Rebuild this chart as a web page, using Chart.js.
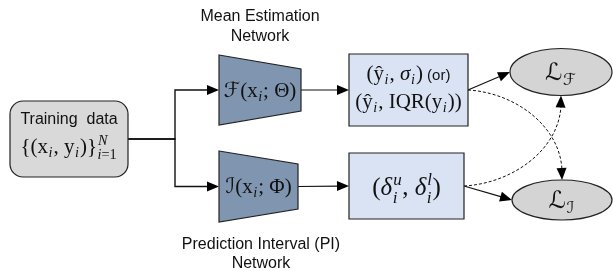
<!DOCTYPE html>
<html>
<head>
<meta charset="utf-8">
<script src="https://cdn.jsdelivr.net/npm/chart.js@4"></script>
<style>
  html, body { margin: 0; padding: 0; background: #fff; }
  canvas { display: block; }
</style>
</head>
<body>
<canvas id="diagram" width="613" height="271"></canvas>
<script>
// diagram content
const captionTop = ['Mean Estimation', 'Network'];
const captionBottom = ['Prediction Interval (PI)', 'Network'];
const nodeNames = ['data', 'meanNet', 'piNet', 'meanOut', 'piOut', 'lossF', 'lossI'];
const nodeX = [69, 260, 258.5, 408.5, 406.5, 561, 562];
const nodeY = [139, 90, 186.5, 90, 186, 72, 200];
// [from, to, kind]
const edges = [
  ['data', 'meanNet', 'elbow'],
  ['data', 'piNet', 'elbow'],
  ['meanNet', 'meanOut', 'solid'],
  ['piNet', 'piOut', 'solid'],
  ['meanOut', 'lossF', 'solid'],
  ['piOut', 'lossI', 'solid'],
  ['meanOut', 'lossI', 'dashed'],
  ['piOut', 'lossF', 'dashed']
];

// math labels as runs: t = text with font f, or sub/sup scripts
const labels = {
  data: [
    [{ t: 'Training  data', f: 'sf', size: 16 }],
    [{ t: '{(x', f: 'rm' }, { sub: 'i' }, { t: ', y', f: 'rm' }, { sub: 'i' }, { t: ')}', f: 'rm' }, { sup: 'N', sub: 'i=1' }]
  ],
  meanNet: [[{ t: 'ℱ', f: 'cal' }, { t: '(x', f: 'rm' }, { sub: 'i' }, { t: '; Θ)', f: 'rm' }]],
  piNet: [[{ t: 'ℐ', f: 'cal' }, { t: '(x', f: 'rm' }, { sub: 'i' }, { t: '; Φ)', f: 'rm' }]],
  meanOut: [
    [{ t: '(ŷ', f: 'rm' }, { sub: 'i' }, { t: ', ', f: 'rm' }, { t: 'σ', f: 'it' }, { sub: 'i' }, { t: ')', f: 'rm' }, { t: ' (or)', f: 'sf', size: 15 }],
    [{ t: '(ŷ', f: 'rm' }, { sub: 'i' }, { t: ', IQR(y', f: 'rm' }, { sub: 'i' }, { t: '))', f: 'rm' }]
  ],
  piOut: [[{ t: '(', f: 'rm' }, { t: 'δ', f: 'it' }, { sup: 'u', sub: 'i' }, { t: ', ', f: 'rm' }, { t: 'δ', f: 'it' }, { sup: 'l', sub: 'i' }, { t: ')', f: 'rm' }]],
  lossF: [[{ t: 'ℒ', f: 'cal' }, { sub: 'ℱ', sf: 'cal' }]],
  lossI: [[{ t: 'ℒ', f: 'cal' }, { sub: 'ℐ', sf: 'cal' }]]
};

// shape geometry (diagram units)
const shapes = {
  data: { type: 'round', w: 118, h: 76, r: 13, fill: '#d9d9d9', size: 21, lines: [124, 153] },
  meanNet: { type: 'trap', w: 82, hl: 70, hr: 42, fill: '#8095af', size: 21, lines: [97] },
  piNet: { type: 'trap', w: 79, hl: 71, hr: 45, fill: '#8095af', size: 21, lines: [193] },
  meanOut: { type: 'rect', w: 119, h: 72, fill: '#dae3f3', size: 21, lines: [80, 108] },
  piOut: { type: 'rect', w: 115, h: 66, fill: '#dae3f3', size: 25, lines: [195] },
  lossF: { type: 'ellipse', w: 102, h: 47, fill: '#d4d4d4', size: 24, lines: [80] },
  lossI: { type: 'ellipse', w: 100, h: 40, fill: '#d4d4d4', size: 24, lines: [208] }
};

function fontFor(f, size) {
  if (f === 'it') return 'italic ' + size + 'px "Liberation Serif"';
  if (f === 'sf') return size + 'px "Liberation Sans", Arial';
  if (f === 'cal') return size + 'px "DejaVu Serif", "DejaVu Sans"';
  return size + 'px "Liberation Serif"';
}

function scriptItems(ctx, items, str, f, size, x0, dy) {
  let x = x0;
  for (const ch of str) {
    const ff = f || (/[a-zA-Z]/.test(ch) ? 'it' : 'rm');
    const font = fontFor(ff, size);
    ctx.font = font;
    items.push({ t: ch, font, x, dy });
    x += ctx.measureText(ch).width;
  }
  return x - x0;
}

function layoutRuns(ctx, runs, size) {
  const items = [];
  let x = 0;
  for (const r of runs) {
    if (r.t !== undefined) {
      const font = fontFor(r.f, r.size || size);
      ctx.font = font;
      items.push({ t: r.t, font, x, dy: 0 });
      x += ctx.measureText(r.t).width;
    } else {
      let adv = 0;
      const s = size * 0.68;
      if (r.sup) adv = Math.max(adv, scriptItems(ctx, items, r.sup, r.sf, s, x + 1, -size * 0.4));
      if (r.sub) adv = Math.max(adv, scriptItems(ctx, items, r.sub, r.sf, s, x + 0.5, size * (r.sup ? 0.3 : 0.2)));
      x += adv + 1.5;
    }
  }
  return { items, width: x };
}

function arrowHead(ctx, fx, fy, tx, ty) {
  const a = Math.atan2(ty - fy, tx - fx);
  const len = 12, half = 5;
  ctx.save();
  ctx.setLineDash([]);
  ctx.beginPath();
  ctx.moveTo(tx, ty);
  ctx.lineTo(tx - len * Math.cos(a) + half * Math.sin(a), ty - len * Math.sin(a) - half * Math.cos(a));
  ctx.lineTo(tx - len * Math.cos(a) - half * Math.sin(a), ty - len * Math.sin(a) + half * Math.cos(a));
  ctx.closePath();
  ctx.fillStyle = '#000';
  ctx.fill();
  ctx.restore();
}

const diagramPlugin = {
  id: 'diagram',
  afterDatasetsDraw(chart) {
    const ctx = chart.ctx;
    const sx = chart.scales.x, sy = chart.scales.y;
    const meta = chart.getDatasetMeta(0);
    const pos = {};
    nodeNames.forEach((n, i) => { pos[n] = { x: meta.data[i].x, y: meta.data[i].y }; });
    const dw = v => sx.getPixelForValue(v) - sx.getPixelForValue(0);
    const dh = v => sy.getPixelForValue(v) - sy.getPixelForValue(0);

    // anchor points on each shape
    function anchor(n, side) {
      const p = pos[n], s = shapes[n];
      const hw = dw(s.w) / 2;
      if (side === 'left') return { x: p.x - hw, y: p.y };
      if (side === 'right') return { x: p.x + hw, y: p.y };
      const hh = dh(s.h) / 2;
      if (side === 'top') return { x: p.x, y: p.y - hh };
      return { x: p.x, y: p.y + hh };
    }

    ctx.save();
    ctx.strokeStyle = '#111';
    ctx.lineWidth = 1.2;

    // edges
    edges.forEach(([from, to, kind]) => {
      ctx.save();
      if (kind === 'elbow') {
        const a = anchor(from, 'right'), b = anchor(to, 'left');
        const mx = sx.getPixelForValue(175);
        ctx.lineWidth = 1.4;
        ctx.beginPath();
        ctx.moveTo(a.x, a.y);
        ctx.lineTo(mx, a.y);
        ctx.lineTo(mx, b.y);
        ctx.lineTo(b.x - 10, b.y);
        ctx.stroke();
        arrowHead(ctx, mx, b.y, b.x, b.y);
      } else if (kind === 'solid') {
        const a = anchor(from, 'right'), b = anchor(to, 'left');
        const ang = Math.atan2(b.y - a.y, b.x - a.x);
        ctx.beginPath();
        ctx.moveTo(a.x, a.y);
        ctx.lineTo(b.x - 10 * Math.cos(ang), b.y - 10 * Math.sin(ang));
        ctx.stroke();
        arrowHead(ctx, a.x, a.y, b.x, b.y);
      } else {
        const a = anchor(from, 'right');
        const down = pos[to].y > pos[from].y;
        const b = anchor(to, down ? 'top' : 'bottom');
        const c1 = { x: a.x + (b.x - a.x) * 0.5, y: a.y + (b.y - a.y) * 0.03 };
        const c2 = { x: b.x - 2, y: a.y + (b.y - a.y) * 0.4 };
        const sgn = down ? 1 : -1;
        ctx.setLineDash([3, 2]);
        ctx.lineWidth = 1;
        ctx.beginPath();
        ctx.moveTo(a.x, a.y);
        ctx.bezierCurveTo(c1.x, c1.y, c2.x, c2.y, b.x, b.y - sgn * 10);
        ctx.stroke();
        arrowHead(ctx, c2.x, c2.y, b.x, b.y);
      }
      ctx.restore();
    });

    // shapes
    nodeNames.forEach(n => {
      const p = pos[n], s = shapes[n];
      ctx.beginPath();
      if (s.type === 'round') {
        ctx.roundRect(p.x - dw(s.w) / 2, p.y - dh(s.h) / 2, dw(s.w), dh(s.h), s.r);
      } else if (s.type === 'rect') {
        ctx.rect(p.x - dw(s.w) / 2, p.y - dh(s.h) / 2, dw(s.w), dh(s.h));
      } else if (s.type === 'trap') {
        const l = p.x - dw(s.w) / 2, r = p.x + dw(s.w) / 2;
        ctx.moveTo(l, p.y - dh(s.hl) / 2);
        ctx.lineTo(r, p.y - dh(s.hr) / 2);
        ctx.lineTo(r, p.y + dh(s.hr) / 2);
        ctx.lineTo(l, p.y + dh(s.hl) / 2);
        ctx.closePath();
      } else {
        ctx.ellipse(p.x, p.y, dw(s.w) / 2, dh(s.h) / 2, 0, 0, Math.PI * 2);
      }
      ctx.fillStyle = s.fill;
      ctx.fill();
      ctx.lineWidth = 1.2;
      ctx.strokeStyle = '#222';
      ctx.stroke();

      // label lines
      ctx.fillStyle = '#111';
      ctx.textBaseline = 'alphabetic';
      labels[n].forEach((runs, li) => {
        const lay = layoutRuns(ctx, runs, s.size);
        const x0 = p.x - lay.width / 2;
        const by = sy.getPixelForValue(s.lines[li]);
        lay.items.forEach(it => {
          ctx.font = it.font;
          ctx.fillText(it.t, x0 + it.x, by + it.dy);
        });
      });
    });

    // captions
    ctx.font = '16px "Liberation Sans", Arial';
    ctx.textAlign = 'center';
    ctx.fillStyle = '#111';
    captionTop.forEach((t, i) => ctx.fillText(t, sx.getPixelForValue(260), sy.getPixelForValue(21 + i * 20)));
    captionBottom.forEach((t, i) => ctx.fillText(t, sx.getPixelForValue(261), sy.getPixelForValue(249 + i * 19)));
    ctx.restore();
  }
};

new Chart(document.getElementById('diagram'), {
  type: 'scatter',
  data: {
    datasets: [{
      data: nodeNames.map((n, i) => ({ x: nodeX[i], y: nodeY[i] })),
      pointRadius: 0
    }]
  },
  options: {
    responsive: false,
    devicePixelRatio: 1,
    animation: false,
    events: [],
    layout: { padding: 0 },
    plugins: { legend: { display: false }, tooltip: { enabled: false } },
    scales: {
      x: { display: false, min: 0, max: 613 },
      y: { display: false, min: 0, max: 271, reverse: true }
    }
  },
  plugins: [diagramPlugin]
});
</script>
</body>
</html>
